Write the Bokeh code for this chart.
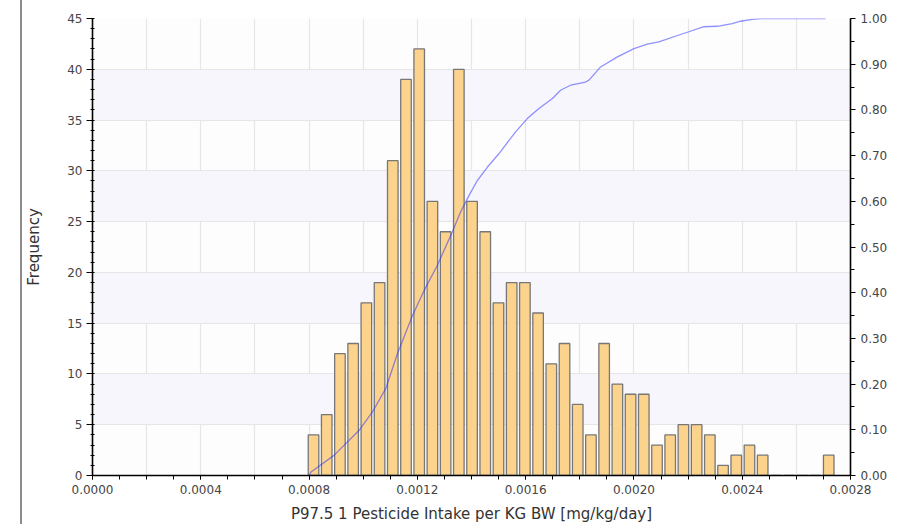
from bokeh.plotting import figure
from bokeh.models import (Range1d, LinearAxis, SingleIntervalTicker, NumeralTickFormatter,
                          Div, ColumnDataSource)
from bokeh.layouts import row
from bokeh.embed import file_html
from bokeh.resources import INLINE

# ---- data ----
counts = [4, 6, 12, 13, 17, 19, 31, 39, 42, 27, 24, 40, 27, 24, 17, 19, 19, 16, 11, 13,
          7, 4, 13, 9, 8, 8, 3, 4, 5, 5, 4, 1, 2, 3, 2, 0, 0, 0, 0, 2]
bin_lo = 0.000792
bin_width = 0.0000488

cdf_x = [0.000802, 0.000806, 0.000892, 0.000985, 0.001034, 0.001083, 0.001126, 0.001182,
         0.001225, 0.001274, 0.001329, 0.001360, 0.001391, 0.001422, 0.001459, 0.001501,
         0.001563, 0.001606, 0.001649, 0.001699, 0.001729, 0.001766, 0.001821, 0.001834,
         0.001877, 0.001939, 0.002000, 0.002049, 0.002092, 0.002172, 0.002203, 0.002258,
         0.002308, 0.002363, 0.002394, 0.002437, 0.002468, 0.002708]
cdf_y = [0.0, 0.007, 0.044, 0.099, 0.139, 0.19, 0.266, 0.35, 0.405, 0.46, 0.533, 0.577,
         0.613, 0.646, 0.675, 0.704, 0.752, 0.781, 0.803, 0.825, 0.843, 0.854, 0.861, 0.865,
         0.894, 0.916, 0.934, 0.944, 0.949, 0.965, 0.971, 0.982, 0.983, 0.989, 0.994, 0.998,
         1.0, 1.0]

x_label = "P97.5 1 Pesticide Intake per KG BW [mg/kg/day]"
y_label = "Frequency"

centers = [bin_lo + (i + 0.5) * bin_width for i in range(len(counts))]
bars = ColumnDataSource(dict(x=centers, top=counts))

FONT = "DejaVu Sans"

p = figure(frame_width=758, frame_height=457,
           x_range=Range1d(0, 0.0028), y_range=Range1d(0, 45),
           output_backend="svg", toolbar_location=None,
           min_border_left=70, min_border_top=18, min_border_bottom=50, min_border_right=10,
           background_fill_color="#fdfdfd", border_fill_color="white")
p.extra_y_ranges = {"cum": Range1d(0, 1)}
p.outline_line_color = None

p.vbar(x="x", top="top", width=bin_width * 0.8, bottom=0, source=bars,
       fill_color="#FCD38D", line_color="#777777", line_width=1.3)
p.line(cdf_x, cdf_y, y_range_name="cum", line_color="#2828ff", line_alpha=0.5, line_width=1.3)

# grids
p.xgrid.ticker = SingleIntervalTicker(interval=0.0002)
p.xgrid.grid_line_color = "#e6e6e6"
p.xgrid.grid_line_width = 1.2
p.ygrid.grid_line_color = "#e6e6e6"
p.ygrid.grid_line_width = 1.2
p.ygrid.band_fill_color = "#f6f6fc"
p.ygrid.band_fill_alpha = 1.0

# x axis
xa = p.xaxis[0]
xa.ticker = SingleIntervalTicker(interval=0.0004, num_minor_ticks=4)
xa.formatter = NumeralTickFormatter(format="0.0000")
xa.axis_label = x_label

# left axis
ya = p.yaxis[0]
ya.ticker = SingleIntervalTicker(interval=5, num_minor_ticks=5)
ya.axis_label = y_label

# right axis
ra = LinearAxis(y_range_name="cum", ticker=SingleIntervalTicker(interval=0.1, num_minor_ticks=2),
                formatter=NumeralTickFormatter(format="0.00"))
p.add_layout(ra, "right")

for ax in (xa, ya, ra):
    ax.axis_line_color = "black"
    ax.axis_line_width = 1.6
    ax.major_tick_line_color = "black"
    ax.minor_tick_line_color = "black"
    ax.major_label_text_font = FONT
    ax.major_label_text_font_size = "12px"
    ax.major_label_text_color = "#444444"
    ax.axis_label_text_font = FONT
    ax.axis_label_text_font_size = "15px"
    ax.axis_label_text_font_style = "normal"
    ax.axis_label_text_color = "#333333"

xa.major_tick_out = 4
xa.major_tick_in = 0
xa.minor_tick_out = 4
xa.minor_tick_in = 0
xa.major_label_standoff = 5
xa.axis_label_standoff = 8

ya.major_tick_out = 6
ya.major_tick_in = 0
ya.minor_tick_out = 2
ya.minor_tick_in = 2
ya.major_label_standoff = 4
ya.axis_label_standoff = 21

ra.major_tick_out = 5
ra.major_tick_in = 0
ra.minor_tick_out = 4
ra.minor_tick_in = 0
ra.major_label_standoff = 5

edge = Div(text="", width=2, height=524, margin=(0, 0, 0, 20),
           styles={"background-color": "#8c8c8c"})

layout = row(edge, p)
open("out.html", "w").write(file_html(layout, INLINE))
